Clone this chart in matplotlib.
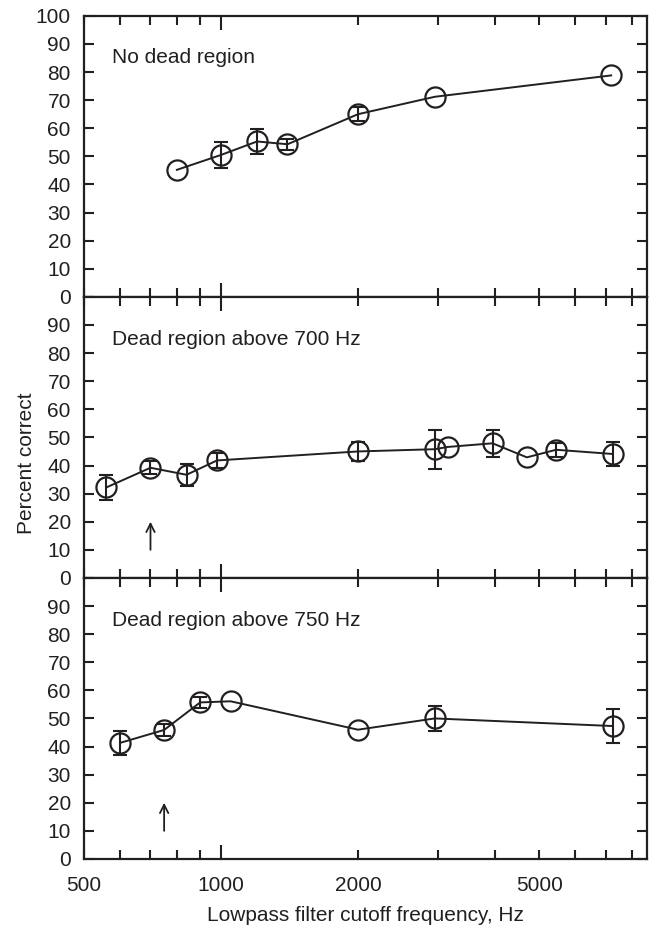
import matplotlib
matplotlib.use("Agg")
import matplotlib.pyplot as plt
from matplotlib.ticker import FixedLocator, NullFormatter

plt.rcParams['font.family'] = ['Liberation Sans', 'DejaVu Sans']

INK = '#231f20'

# Panel 1: no dead region
freq_a = [800, 1000, 1200, 1400, 2000, 2950, 7200]
pct_a = [45.2, 50.5, 55.3, 54.3, 65.0, 71.2, 78.8]
err_a = [0, 4.5, 4.5, 2.0, 2.5, 0, 0]

# Panel 2: dead region above 700 Hz
freq_b = [560, 700, 840, 980, 2000, 2950, 3150, 3950, 4700, 5450, 7250]
pct_b = [32.2, 39.2, 36.7, 41.8, 45.0, 45.8, 46.6, 47.9, 42.9, 45.6, 44.1]
err_b = [4.3, 2.3, 4.0, 2.7, 3.4, 7.0, 0, 4.9, 0, 2.4, 4.1]

# Panel 3: dead region above 750 Hz
freq_c = [600, 750, 900, 1050, 2000, 2950, 7250]
pct_c = [41.3, 45.9, 55.7, 56.1, 46.0, 50.0, 47.3]
err_c = [4.4, 2.0, 2.1, 0, 0, 4.4, 6.2]

panel_titles = ["No dead region", "Dead region above 700 Hz", "Dead region above 750 Hz"]
dead_edges = [None, 700, 750]
arrow_span = (10, 20)

x_labels_at = [500, 1000, 2000, 5000]
x_minor_at = [600, 700, 800, 900, 2000, 3000, 4000, 5000, 6000, 7000, 8000]
x_lim = (500, 8630)

FS = 15

fig = plt.figure(figsize=(6.52, 9.26), dpi=100)
left, width, height = 0.1288, 0.8635, 0.3035
bottoms = [0.6794, 0.3759, 0.0724]

series = [(freq_a, pct_a, err_a), (freq_b, pct_b, err_b), (freq_c, pct_c, err_c)]

axes = []
for i, (fx, py, ey) in enumerate(series):
    ax = fig.add_axes([left, bottoms[i], width, height])
    axes.append(ax)
    ax.set_xscale('log')
    ax.set_xlim(*x_lim)
    ax.set_ylim(0, 100)

    # connecting line and open circles
    ax.plot(fx, py, color=INK, lw=1.4, zorder=2)
    ax.plot(fx, py, linestyle='none', marker='o', ms=14.5, mfc='none',
            mec=INK, mew=1.6, zorder=3)
    # error bars only where a spread was measured
    ex = [f for f, e in zip(fx, ey) if e > 0]
    eyv = [p for p, e in zip(py, ey) if e > 0]
    ee = [e for e in ey if e > 0]
    ax.errorbar(ex, eyv, yerr=ee, fmt='none', ecolor=INK, elinewidth=1.5,
                capsize=5, capthick=1.5, zorder=4)

    ax.text(0.05, 0.85, panel_titles[i], transform=ax.transAxes,
            fontsize=FS, color=INK, ha='left', va='center')

    if dead_edges[i] is not None:
        ax.annotate('', xy=(dead_edges[i], arrow_span[1]),
                    xytext=(dead_edges[i], arrow_span[0]),
                    arrowprops=dict(arrowstyle='->', color=INK, lw=1.3,
                                    mutation_scale=15, shrinkA=0, shrinkB=0))

    for s in ax.spines.values():
        s.set_linewidth(1.6)
        s.set_color(INK)

    ax.xaxis.set_major_locator(FixedLocator(x_labels_at))
    ax.xaxis.set_minor_locator(FixedLocator(x_minor_at))
    ax.xaxis.set_minor_formatter(NullFormatter())
    ax.set_xticklabels([str(v) for v in x_labels_at])
    ax.tick_params(axis='x', which='both', direction='in', top=True,
                   bottom=True, width=1.5, color=INK, labelsize=FS,
                   labelcolor=INK, pad=12)
    ax.tick_params(axis='x', which='major', length=6.5)
    ax.tick_params(axis='x', which='minor', length=6.5)
    # the 1000 Hz tick is drawn longer
    for t in ax.xaxis.get_major_ticks():
        if abs(t.get_loc() - 1000) < 1:
            t.tick1line.set_markersize(10)
            t.tick2line.set_markersize(10)

    yt = list(range(0, 101, 10))
    ax.set_yticks(yt)
    if i == 0:
        ax.set_yticklabels([str(v) for v in yt])
    else:
        ax.set_yticklabels([str(v) if v < 100 else '' for v in yt])
    ax.tick_params(axis='y', direction='in', left=True, right=True,
                   length=7, width=1.5, color=INK, labelsize=FS,
                   labelcolor=INK, pad=9.5)

    if i < 2:
        ax.tick_params(axis='x', labelbottom=False)

axes[2].set_xlabel('Lowpass filter cutoff frequency, Hz', fontsize=FS,
                   color=INK, labelpad=8)
fig.text(0.041, 0.5, 'Percent correct', rotation=90, fontsize=FS, color=INK,
         ha='center', va='center')

fig.savefig('out.png', dpi=100)
